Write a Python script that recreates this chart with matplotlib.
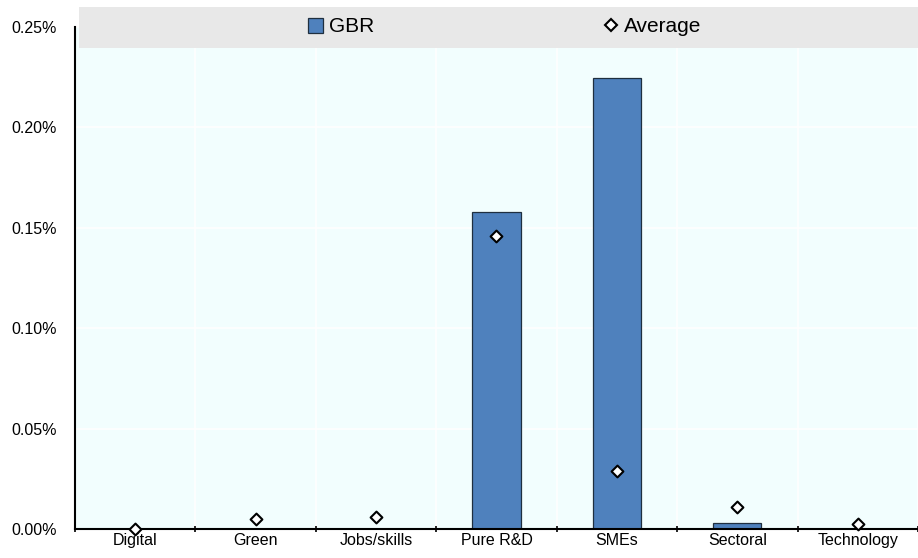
import numpy as np
import matplotlib
matplotlib.use("Agg")
import matplotlib.pyplot as plt
from matplotlib.patches import Rectangle
from matplotlib.lines import Line2D
from matplotlib.ticker import FuncFormatter

plt.rcParams['font.family'] = ['Liberation Sans Narrow', 'Liberation Sans', 'DejaVu Sans']

# data (percent of GDP)
categories = ['Digital', 'Green', 'Jobs/skills', 'Pure R&D', 'SMEs', 'Sectoral', 'Technology']
gbr = [0.0, 0.0, 0.0, 0.158, 0.2245, 0.003, 0.0]
average = [0.0001, 0.005, 0.006, 0.146, 0.029, 0.011, 0.0025]

fig = plt.figure(figsize=(9.18, 5.58), dpi=100)
ax = fig.add_axes([75 / 918, 1 - 529 / 558, 843 / 918, 502 / 558])
ax.set_facecolor('#F2FEFE')

x = np.arange(len(categories))
ax.bar(x, gbr, width=0.4, color='#4F81BD', edgecolor='#1F2F3F', linewidth=0.9, zorder=3)
ax.scatter(x, average, marker='D', s=36, facecolor='white', edgecolor='black',
           linewidth=1.5, zorder=4, clip_on=False)

ax.set_xlim(-0.5, len(categories) - 0.5)
ax.set_ylim(0, 0.25)
ax.set_yticks([0, 0.05, 0.10, 0.15, 0.20, 0.25])
ax.yaxis.set_major_formatter(FuncFormatter(lambda v, p: f'{v:.2f}%'))
ax.tick_params(axis='y', length=0, labelsize=11.5, pad=13)

ax.set_xticks(x)
ax.set_xticklabels(categories)
ax.set_xticks(np.arange(len(categories) + 1) - 0.5, minor=True)
ax.tick_params(axis='x', which='major', length=0, labelsize=11.5, pad=3)
ax.tick_params(axis='x', which='minor', length=4, direction='inout', width=1.2)

ax.grid(axis='x', which='minor', color='white', linewidth=1.2, zorder=0)
ax.grid(axis='y', color='white', linewidth=1.2, zorder=0)

for s in ['top', 'right']:
    ax.spines[s].set_visible(False)
ax.spines['left'].set_linewidth(1.5)
ax.spines['bottom'].set_linewidth(1.5)
ax.spines['bottom'].set_zorder(3.5)

# grey legend band
fig.patches.append(Rectangle((79 / 918, 1 - 48 / 558), 839 / 918, 41 / 558,
                             transform=fig.transFigure, facecolor='#E8E8E8',
                             edgecolor='none', zorder=1))

handles = [
    Rectangle((0, 0), 1, 1, facecolor='#4F81BD', edgecolor='#1F2F3F', linewidth=0.9),
    Line2D([], [], marker='D', linestyle='none', markersize=6, markerfacecolor='white',
           markeredgecolor='black', markeredgewidth=1.5),
]
leg = fig.legend(handles, ['GBR', 'Average'], loc='center', bbox_to_anchor=(0.550, 1 - 27 / 558),
                 ncol=2, frameon=False, fontsize=15, handlelength=0.7, handleheight=0.7,
                 handletextpad=0.3, columnspacing=11.0)
leg.set_zorder(5)

fig.savefig('out.png', dpi=100)
